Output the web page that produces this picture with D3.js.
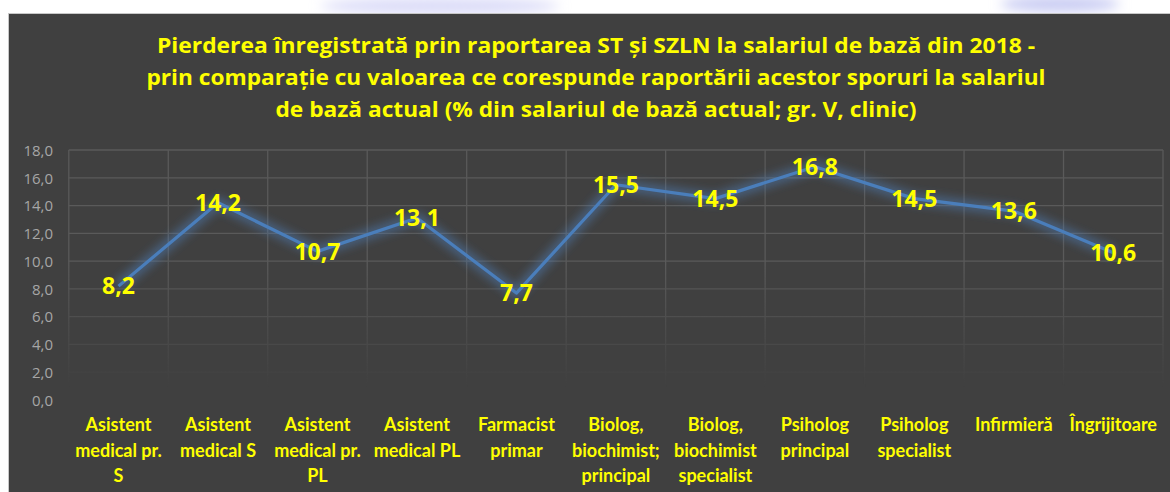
<!DOCTYPE html>
<html><head><meta charset="utf-8">
<script src="https://cdn.jsdelivr.net/npm/d3@7/dist/d3.min.js"></script>
<style>html,body{margin:0;padding:0;background:#fff;overflow:hidden}</style>
</head><body>
<svg id="c" width="1170" height="492"></svg>
<script>
const categories = [
  "Asistent|medical pr.|S",
  "Asistent|medical S",
  "Asistent|medical pr.|PL",
  "Asistent|medical PL",
  "Farmacist|primar",
  "Biolog,|biochimist;|principal",
  "Biolog,|biochimist|specialist",
  "Psiholog|principal",
  "Psiholog|specialist",
  "Infirmieră",
  "Îngrijitoare"
];
const values = [8.2, 14.2, 10.7, 13.1, 7.7, 15.5, 14.5, 16.8, 14.5, 13.6, 10.6];
const yTicks = [0, 2, 4, 6, 8, 10, 12, 14, 16, 18];
const titleLines = [
  "Pierderea înregistrată prin raportarea ST și SZLN la salariul de bază din 2018 -",
  "prin comparație cu valoarea ce corespunde raportării acestor sporuri la salariul",
  "de bază actual (% din salariul de bază actual; gr. V, clinic)"
];

const W = 1170, H = 492;
const svg = d3.select("#c");
const defs = svg.append("defs");

// background
const wm = defs.append("filter").attr("id","wmblur").attr("x","-50%").attr("y","-50%").attr("width","200%").attr("height","200%");
wm.append("feGaussianBlur").attr("stdDeviation", 6);
svg.append("rect").attr("width", W).attr("height", H).attr("fill", "#ffffff");
const wmg = svg.append("g").attr("filter","url(#wmblur)");
wmg.append("ellipse").attr("cx", 440).attr("cy", 6).attr("rx", 120).attr("ry", 8).attr("fill", "#d6d7f7").attr("opacity", 0.9);
wmg.append("ellipse").attr("cx", 1060).attr("cy", 4).attr("rx", 60).attr("ry", 8).attr("fill", "#c3c6f2").attr("opacity", 0.9);
svg.append("rect").attr("x", 8).attr("y", 13).attr("width", W - 8).attr("height", H - 13).attr("fill", "#c8c8c8");
svg.append("rect").attr("x", 9).attr("y", 14).attr("width", W - 9).attr("height", H - 14).attr("fill", "#404040");

const plot = {left: 68.8, right: 1163, top: 150, bottom: 400};
const x = d3.scaleBand().domain(d3.range(categories.length)).range([plot.left, plot.right]).padding(0);
const y = d3.scaleLinear().domain([0, 18]).range([plot.bottom, plot.top]);

// grid fade mask
const grad = defs.append("linearGradient").attr("id","fade").attr("gradientUnits","userSpaceOnUse")
  .attr("x1",0).attr("y1",plot.top).attr("x2",0).attr("y2",plot.bottom);
grad.append("stop").attr("offset",0).attr("stop-color","#fff");
grad.append("stop").attr("offset",0.45).attr("stop-color","#fff");
grad.append("stop").attr("offset",0.95).attr("stop-color","#000");
grad.append("stop").attr("offset",1).attr("stop-color","#000");
const mask = defs.append("mask").attr("id","gridmask").attr("maskUnits","userSpaceOnUse")
  .attr("x",0).attr("y",0).attr("width",W).attr("height",H);
mask.append("rect").attr("x",0).attr("y",plot.top-5).attr("width",W).attr("height",plot.bottom-plot.top+10).attr("fill","url(#fade)");

const grid = svg.append("g").attr("mask","url(#gridmask)");
grid.selectAll("line.h").data(yTicks).join("line")
  .attr("x1", plot.left).attr("x2", plot.right)
  .attr("y1", d => y(d)).attr("y2", d => y(d))
  .attr("stroke", "#5a5a5a").attr("stroke-width", 1.3);
const bounds = d3.range(categories.length + 1).map(i => i < categories.length ? x(i) : x(categories.length-1) + x.bandwidth());
grid.selectAll("line.v").data(bounds).join("line")
  .attr("x1", d => d).attr("x2", d => d)
  .attr("y1", plot.top).attr("y2", plot.bottom)
  .attr("stroke", "#5a5a5a").attr("stroke-width", 1.3);

// y axis
const yAxis = d3.axisLeft(y).tickValues(yTicks).tickSize(0).tickPadding(0)
  .tickFormat(d => d3.format(".1f")(d).replace(".", ","));
const ya = svg.append("g").attr("transform", "translate(53,0)").call(yAxis);
ya.select(".domain").remove();
ya.selectAll("text").attr("fill", "#a6a6a6").style("font-family", "'Open Sans', sans-serif").style("font-size", "15px").attr("dy","0.35em");

// x axis labels
const xAxis = d3.axisBottom(x).tickSize(0).tickFormat("");
const xa = svg.append("g").attr("transform", `translate(0,${plot.bottom})`).call(xAxis);
xa.select(".domain").remove();
xa.selectAll(".tick").each(function(d){
  const lines = categories[d].split("|");
  const t = d3.select(this).append("text")
    .attr("fill", "#ffff00").attr("text-anchor", "middle")
    .style("font-family", "Lato, sans-serif").style("font-weight", "700").style("font-size", "18px");
  lines.forEach((l, i) => t.append("tspan").attr("x", 0).attr("y", 31 + i * 25.5).text(l));
});

// line with glow
const glow = defs.append("filter").attr("id","glow").attr("x","-10%").attr("y","-30%").attr("width","120%").attr("height","160%");
glow.append("feGaussianBlur").attr("stdDeviation", 4);
const lineGen = d3.line().x((d, i) => x(i) + x.bandwidth() / 2).y(d => y(d));
svg.append("path").datum(values).attr("d", lineGen).attr("fill","none")
  .attr("stroke", "#4f81bd").attr("stroke-width", 12).attr("stroke-opacity", 0.45)
  .attr("stroke-linejoin","round").attr("filter","url(#glow)");
svg.append("path").datum(values).attr("d", lineGen).attr("fill","none")
  .attr("stroke", "#4a7ebb").attr("stroke-width", 3.2).attr("stroke-linejoin","round");

// data labels
svg.append("g").selectAll("text").data(values).join("text")
  .attr("x", (d, i) => x(i) + x.bandwidth() / 2)
  .attr("y", d => y(d))
  .attr("dy", "0.36em")
  .attr("text-anchor", "middle")
  .attr("fill", "#ffff00")
  .style("font-family", "'Open Sans', sans-serif").style("font-weight", "700").style("font-size", "23px")
  .text(d => d3.format(".1f")(d).replace(".", ","));

// title
const title = svg.append("g");
const tWidths = [878, 899, 641];
titleLines.forEach((l, i) => {
  title.append("text").attr("x", 596).attr("y", 53 + i * 32)
    .attr("text-anchor", "middle").attr("fill", "#ffff00")
    .attr("textLength", tWidths[i]).attr("lengthAdjust", "spacingAndGlyphs")
    .style("font-family", "'Open Sans', sans-serif").style("font-weight", "700").style("font-size", "21px")
    .text(l);
});
</script>
</body></html>
